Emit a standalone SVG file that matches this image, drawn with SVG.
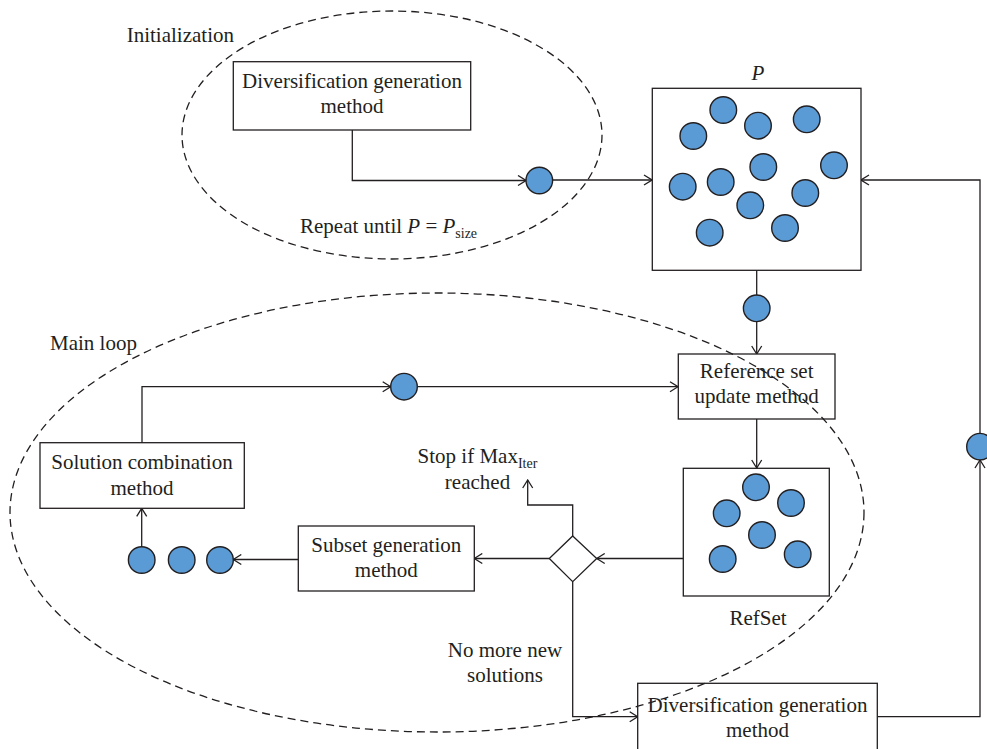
<svg xmlns="http://www.w3.org/2000/svg" width="987" height="749" viewBox="0 0 987 749">
<style>
  .box{fill:#fff;stroke:#231f20;stroke-width:1.3}
  .dot{fill:#5b9bd5;stroke:#231f20;stroke-width:1.4}
  .ln{fill:none;stroke:#231f20;stroke-width:1.3}
  .arr{marker-end:url(#ah)}
  .dash{fill:none;stroke:#231f20;stroke-width:1.3;stroke-dasharray:8 5}
  text{font-family:"Liberation Serif","Times New Roman",serif;font-size:21px;fill:#231f20}
  .c{text-anchor:middle}
  .sub{font-size:14px}
</style>
<defs>
  <marker id="ah" viewBox="0 0 10 12" refX="9" refY="6" markerWidth="10" markerHeight="12" markerUnits="userSpaceOnUse" orient="auto">
    <path d="M1,1 L9,6 L1,11" fill="none" stroke="#231f20" stroke-width="1.3"/>
  </marker>
</defs>
<rect width="987" height="749" fill="#fff"/>

<g id="connectors">
  <path class="ln arr" d="M352.3,130 V180.5 H526"/>
  <path class="ln arr" d="M552.6,180 H652"/>
  <path class="ln" d="M756.7,270.3 V295"/>
  <path class="ln arr" d="M756.7,321.6 V354"/>
  <path class="ln arr" d="M877.3,716.7 H980 V460"/>
  <path class="ln arr" d="M980,433.4 V180 H861"/>
  <path class="ln arr" d="M142,443 V386.7 H390.7"/>
  <path class="ln arr" d="M417.3,386.7 H678"/>
  <path class="ln arr" d="M756.7,419 V468"/>
  <path class="ln arr" d="M683.3,558.5 H596.7"/>
  <path class="ln arr" d="M549.3,558.5 H474.3"/>
  <path class="ln arr" d="M298,559.5 H233.3"/>
  <path class="ln arr" d="M141.7,546.7 V508.3"/>
  <path class="ln arr" d="M572.7,536 V505 H527.7 V480"/>
  <path class="ln arr" d="M572.7,581.7 V716.7 H637.7"/>
</g>

<g id="node-div-init">
  <rect class="box" x="233.3" y="61.7" width="237.4" height="68.3"/>
  <text class="c" x="352" y="88">Diversification generation</text>
  <text class="c" x="352" y="113">method</text>
</g>
<g id="dot-init"><circle class="dot" cx="539.3" cy="180.5" r="13.3"/></g>

<g id="node-p">
  <text x="758" y="80" class="c" font-style="italic">P</text>
  <rect class="box" x="652.3" y="88.3" width="208.7" height="182"/>
  <circle class="dot" cx="723.3" cy="110" r="13.3"/>
  <circle class="dot" cx="693.3" cy="136" r="13.3"/>
  <circle class="dot" cx="758" cy="125.7" r="13.3"/>
  <circle class="dot" cx="806.7" cy="119.3" r="13.3"/>
  <circle class="dot" cx="763.3" cy="167" r="13.3"/>
  <circle class="dot" cx="834" cy="165.3" r="13.3"/>
  <circle class="dot" cx="682.7" cy="186.7" r="13.3"/>
  <circle class="dot" cx="720.7" cy="182" r="13.3"/>
  <circle class="dot" cx="805.3" cy="193" r="13.3"/>
  <circle class="dot" cx="750.3" cy="205.3" r="13.3"/>
  <circle class="dot" cx="709.7" cy="232.7" r="13.3"/>
  <circle class="dot" cx="785" cy="228" r="13.3"/>
</g>
<g id="dot-p-out"><circle class="dot" cx="756.7" cy="308.3" r="13.3"/></g>
<g id="dot-right"><circle class="dot" cx="980" cy="446.7" r="13.3"/></g>

<g id="node-refupdate">
  <rect class="box" x="678.3" y="354" width="156.7" height="65"/>
  <text class="c" x="756.7" y="378.3">Reference set</text>
  <text class="c" x="756.7" y="403.3">update method</text>
</g>
<g id="dot-main"><circle class="dot" cx="404" cy="386.7" r="13.3"/></g>

<g id="node-solution">
  <rect class="box" x="40" y="442.7" width="204.3" height="65.6"/>
  <text class="c" x="142" y="469.3">Solution combination</text>
  <text class="c" x="142" y="495">method</text>
</g>
<g id="dots-subset">
  <circle class="dot" cx="141.7" cy="560" r="13.3"/>
  <circle class="dot" cx="181.7" cy="560" r="13.3"/>
  <circle class="dot" cx="220" cy="560" r="13.3"/>
</g>

<g id="node-subset">
  <rect class="box" x="298.3" y="526" width="176" height="65"/>
  <text class="c" x="386.3" y="551.7">Subset generation</text>
  <text class="c" x="386.3" y="576.7">method</text>
</g>

<g id="node-decision">
  <polygon class="box" points="572.7,536 596.7,558.5 572.7,581.7 549.3,558.5"/>
</g>

<g id="node-refset">
  <rect class="box" x="683.3" y="468.3" width="146" height="127.7"/>
  <circle class="dot" cx="756" cy="487.3" r="13.3"/>
  <circle class="dot" cx="791" cy="503" r="13.3"/>
  <circle class="dot" cx="726.7" cy="513.3" r="13.3"/>
  <circle class="dot" cx="762" cy="535" r="13.3"/>
  <circle class="dot" cx="722.7" cy="559" r="13.3"/>
  <circle class="dot" cx="797.7" cy="554.3" r="13.3"/>
  <text class="c" x="758" y="625">RefSet</text>
</g>

<g id="node-div-main">
  <rect class="box" x="637.7" y="683.3" width="239.6" height="72"/>
  <text class="c" x="757.5" y="711.7">Diversification generation</text>
  <text class="c" x="757.5" y="736.7">method</text>
</g>

<g id="labels">
  <text x="126.7" y="41.7">Initialization</text>
  <text x="300" y="233">Repeat until <tspan font-style="italic">P</tspan> = <tspan font-style="italic">P</tspan><tspan class="sub" dy="4.5">size</tspan></text>
  <text x="50" y="350">Main loop</text>
  <text class="c" x="477.5" y="463.3">Stop if Max<tspan class="sub" dy="4.5">Iter</tspan></text>
  <text class="c" x="477.5" y="489.3">reached</text>
  <text class="c" x="505" y="657">No more new</text>
  <text class="c" x="505" y="682">solutions</text>
</g>

<g id="regions">
  <ellipse class="dash" cx="392" cy="135" rx="210" ry="124"/>
  <ellipse class="dash" cx="437" cy="512.5" rx="427" ry="219.5"/>
</g>
</svg>
